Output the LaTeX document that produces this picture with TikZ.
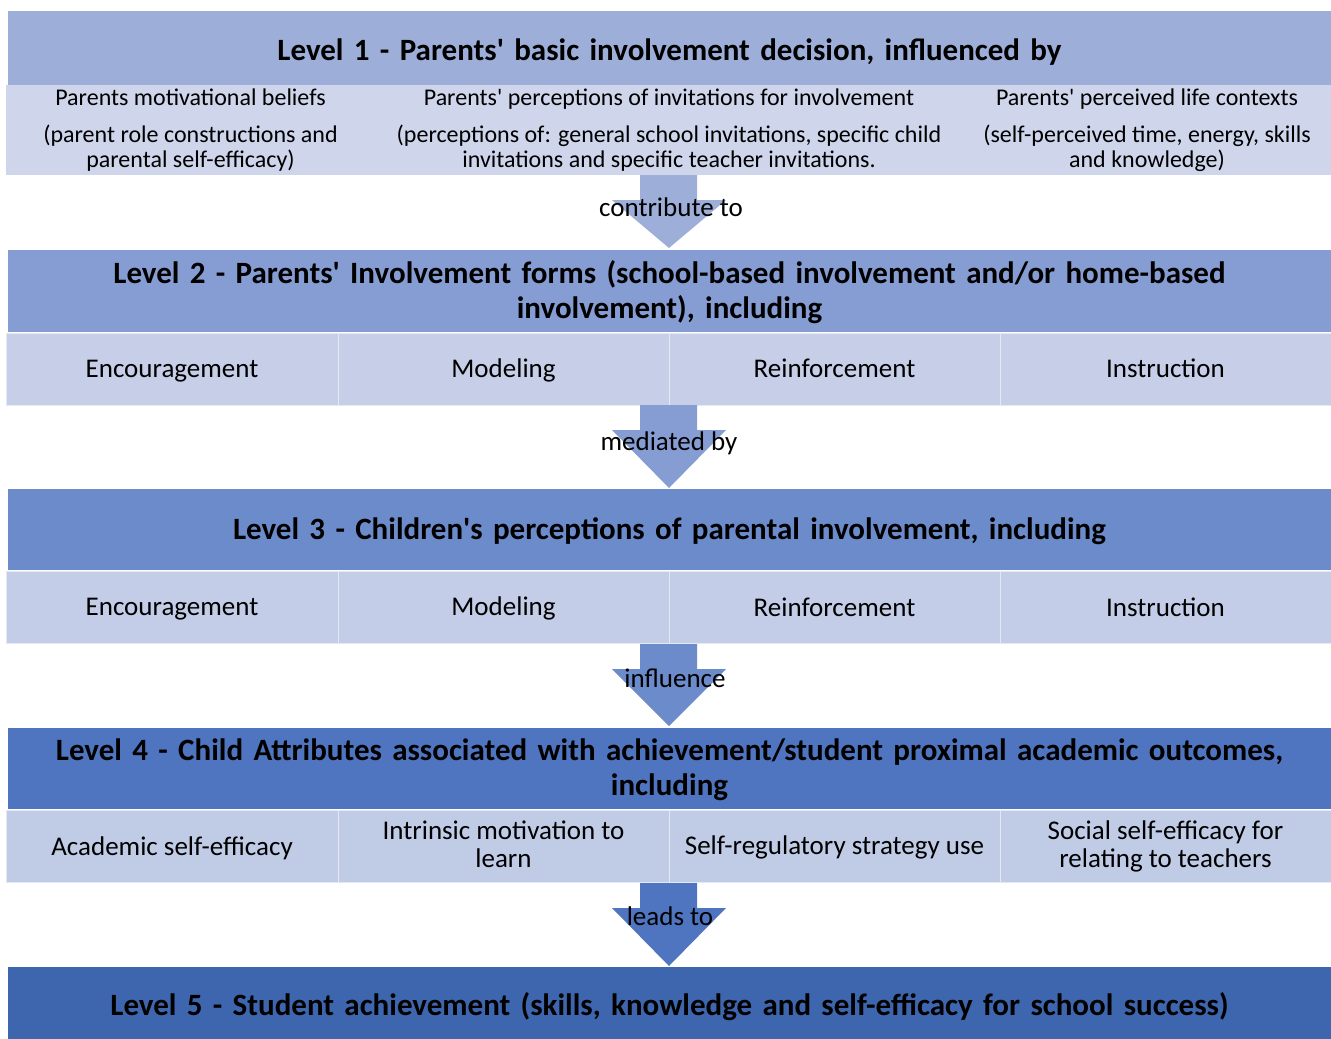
\documentclass[tikz,border=0pt]{standalone}
\usepackage{fontspec}
\setmainfont{Carlito}
\usetikzlibrary{calc}
\definecolor{hA}{RGB}{157,175,217}
\definecolor{rA}{RGB}{207,214,235}
\definecolor{hB}{RGB}{134,157,212}
\definecolor{rB}{RGB}{199,207,232}
\definecolor{hC}{RGB}{108,139,203}
\definecolor{rC}{RGB}{195,205,231}
\definecolor{hD}{RGB}{79,117,192}
\definecolor{rD}{RGB}{192,203,230}
\definecolor{hE}{RGB}{62,102,175}
\newcommand{\aq}{\textquotesingle}
\newcommand{\bstrut}{\vrule width0pt height0.8em depth0.156em\relax}
\newcommand{\lowstrut}{\vrule width0pt height\dimexpr0.8em+6pt\relax depth0.156em\relax}
\tikzset{
  head/.style={rectangle, inner sep=0pt, align=center, text width=1320pt,
    font=\fontsize{31}{35}\selectfont\bfseries, minimum width=1323pt,
    execute at begin node=\bstrut, execute at end node=\bstrut},
  lowtext/.style={execute at begin node=\lowstrut},
  cell/.style={rectangle, draw=white!55!#1, fill=#1, line width=1pt, inner sep=0pt, align=center,
    font=\fontsize{27}{28}\selectfont, minimum height=72pt,
    execute at begin node=\bstrut, execute at end node=\bstrut},
  topcell/.style={rectangle, fill=rA, inner sep=0pt, align=center,
    font=\fontsize{24}{25}\selectfont, minimum height=90pt,
    execute at begin node=\bstrut, execute at end node=\bstrut},
  lbl/.style={inner sep=0pt, font=\fontsize{27}{28}\selectfont},
}
\newcommand{\blockarrow}[3]{% top coordinate, tip coordinate, colour
  \fill[#3] ($(#1)+(-29,0)$) -- ($(#1)+(28,0)$) -- ($(#1)+(28,25)$) -- ($(#1)+(57,25)$)
    -- (#2) -- ($(#1)+(-57,25)$) -- ($(#1)+(-29,25)$) -- cycle;}
\begin{document}
\begin{tikzpicture}[x=1pt,y=-1pt]
\useasboundingbox[fill=white] (0,0) rectangle (1331,1039);

% Level 1
\node[head, lowtext, fill=hA, minimum height=74pt] (h1) at (669.5,48) {Level 1 - Parents\aq\ basic involvement decision, influenced by};
\node[topcell, minimum width=369pt] (r1a) at (190.5,130)
  {Parents motivational beliefs\\[12pt](parent role constructions and\\parental self-efficacy)};
\node[topcell, minimum width=589pt] (r1b) at (669,130)
  {Parents\aq\ perceptions of invitations for involvement\\[12pt](perceptions of: general school invitations, specific child\\invitations and specific teacher invitations.};
\node[topcell, minimum width=368pt] (r1c) at (1147,130)
  {Parents\aq\ perceived life contexts\\[12pt](self-perceived time, energy, skills\\and knowledge)};

% Level 2
\node[head, fill=hB, minimum height=82pt] (h2) at (669.5,291) {Level 2 - Parents\aq\ Involvement forms (school-based involvement and/or home-based\\involvement), including};
\node[cell=rB, minimum width=332pt] (r2a) at (172,369) {Encouragement};
\node[cell=rB, minimum width=331pt] (r2b) at (503.5,369) {Modeling};
\node[cell=rB, minimum width=331pt] (r2c) at (834.5,369) {Reinforcement};
\node[cell=rB, minimum width=331pt] (r2d) at (1165.5,369) {Instruction};

% Level 3
\node[head, fill=hC, minimum height=81pt] (h3) at (669.5,529.5) {Level 3 - Children\aq s perceptions of parental involvement, including};
\node[cell=rC, minimum width=332pt] (r3a) at (172,607.5) {Encouragement};
\node[cell=rC, minimum width=331pt] (r3b) at (503.5,607.5) {Modeling};
\node[cell=rC, minimum width=331pt] (r3c) at (834.5,607.5) {Reinforcement};
\node[cell=rC, minimum width=331pt] (r3d) at (1165.5,607.5) {Instruction};

% Level 4
\node[head, fill=hD, minimum height=81pt] (h4) at (669.5,768.5) {Level 4 - Child Attributes associated with achievement/student proximal academic outcomes,\\including};
\node[cell=rD, minimum width=332pt] (r4a) at (172,846.5) {Academic self-efficacy};
\node[cell=rD, minimum width=331pt] (r4b) at (503.5,846.5) {Intrinsic motivation to\\learn};
\node[cell=rD, minimum width=331pt] (r4c) at (834.5,846.5) {Self-regulatory strategy use};
\node[cell=rD, minimum width=331pt] (r4d) at (1165.5,846.5) {Social self-efficacy for\\relating to teachers};

% Level 5
\node[head, lowtext, fill=hE, minimum height=72pt] (h5) at (669.5,1003) {Level 5 - Student achievement (skills, knowledge and self-efficacy for school success)};

% Arrows
\coordinate (a1top) at (669,175);  \coordinate (a1tip) at (669,248);
\coordinate (a2top) at (669,405);  \coordinate (a2tip) at (669,488);
\coordinate (a3top) at (669,644);  \coordinate (a3tip) at (669,726);
\coordinate (a4top) at (669,883);  \coordinate (a4tip) at (669,966);
\blockarrow{a1top}{a1tip}{hA}
\blockarrow{a2top}{a2tip}{hB}
\blockarrow{a3top}{a3tip}{hC}
\blockarrow{a4top}{a4tip}{hD}
\node[lbl] (l1) at (671,207) {contribute to};
\node[lbl] (l2) at (669,443) {mediated by};
\node[lbl] (l3) at (675,678) {influence};
\node[lbl] (l4) at (670,916) {leads to};
\end{tikzpicture}
\end{document}
